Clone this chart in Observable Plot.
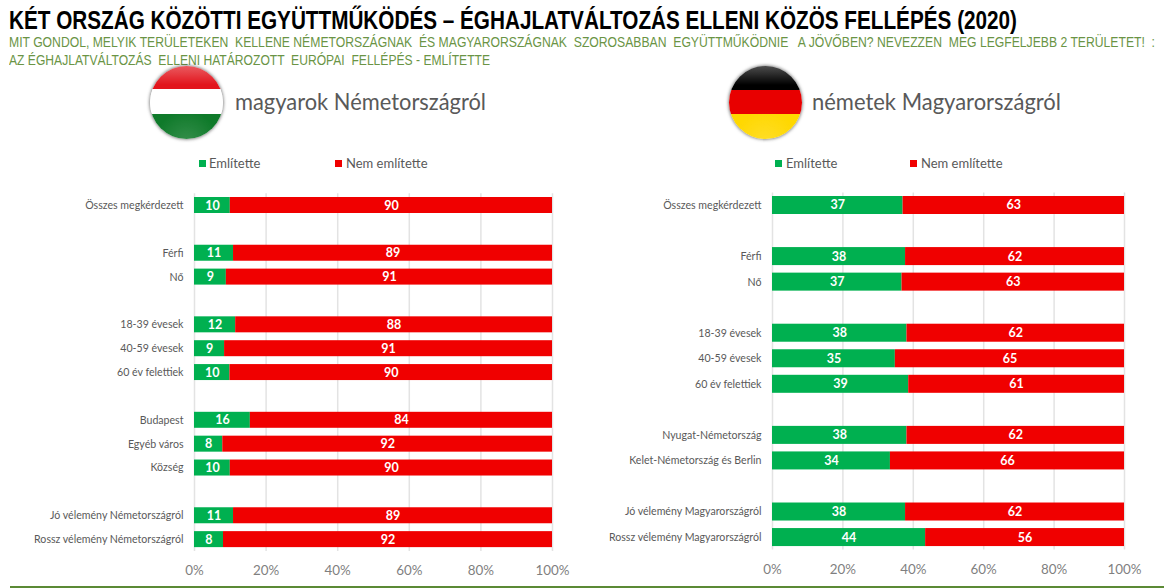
<!DOCTYPE html>
<html lang="hu">
<head>
<meta charset="utf-8">
<script src="https://cdn.jsdelivr.net/npm/d3@7"></script>
<script src="https://cdn.jsdelivr.net/npm/@observablehq/plot@0.6"></script>
<style>
html,body{margin:0;padding:0;background:#fff;}
#page{position:relative;width:1164px;height:588px;overflow:hidden;background:#fff;font-family:Lato,"Open Sans",sans-serif;}
.abs{position:absolute;white-space:pre;line-height:1;}
.fit{transform-origin:0 50%;}
.narrow{font-family:"Liberation Sans Narrow","Liberation Sans",sans-serif;}
#title{left:9px;top:7px;font-size:26px;font-weight:700;color:#000;}
.sub{left:9px;font-size:15px;color:#6a9445;}
.head{font-size:24px;color:#595959;top:89px;}
.leg{font-size:13px;color:#595959;top:157px;}
.sw{position:absolute;width:7px;height:7px;top:160px;}
.flag{position:absolute;width:73px;height:73px;border-radius:50%;top:66px;box-shadow:0 0 3px 1px rgba(60,60,60,.55);}
.gloss{position:absolute;inset:0;border-radius:50%;background:radial-gradient(circle at 50% 105%,rgba(255,255,255,.16),rgba(255,255,255,0) 38%),linear-gradient(to bottom,rgba(255,255,255,.3),rgba(255,255,255,0) 26%),radial-gradient(circle at 50% 50%,rgba(0,0,0,0) 78%,rgba(0,0,0,.4) 100%);}
.panel{position:absolute;top:180px;}
.panel svg{display:block;overflow:visible;}
#rule{position:absolute;left:10px;right:0;top:586px;height:2px;background:#5b8a35;}
</style>
</head>
<body>
<div id="page">
  <div id="title" class="abs fit narrow" data-w="1008">KÉT ORSZÁG KÖZÖTTI EGYÜTTMŰKÖDÉS – ÉGHAJLATVÁLTOZÁS ELLENI KÖZÖS FELLÉPÉS (2020)</div>
  <div class="abs fit narrow sub" style="top:34px" data-w="1146">MIT GONDOL, MELYIK TERÜLETEKEN  KELLENE NÉMETORSZÁGNAK  ÉS MAGYARORSZÁGNAK  SZOROSABBAN  EGYÜTTMŰKÖDNIE   A JÖVŐBEN? NEVEZZEN  MEG LEGFELJEBB 2 TERÜLETET!  :</div>
  <div class="abs fit narrow sub" style="top:52px" data-w="481">AZ ÉGHAJLATVÁLTOZÁS  ELLENI HATÁROZOTT  EURÓPAI  FELLÉPÉS - EMLÍTETTE</div>

  <div class="flag" style="left:150px;background:linear-gradient(to bottom,#e2141c 0 32%,#fff 32% 66%,#0f7a2a 66%)"><div class="gloss"></div></div>
  <div class="flag" style="left:729px;background:linear-gradient(to bottom,#000 0 33%,#e80000 33% 66%,#ffd800 66%)"><div class="gloss"></div></div>
  <div class="abs fit head" style="left:235px" data-w="251">magyarok Németországról</div>
  <div class="abs fit head" style="left:812px" data-w="249">németek Magyarországról</div>

  <div class="sw" style="left:199px;background:#00b050"></div>
  <div class="abs leg" style="left:209px">Említette</div>
  <div class="sw" style="left:335px;background:#f00000"></div>
  <div class="abs leg" style="left:346px">Nem említette</div>
  <div class="sw" style="left:775px;background:#00b050"></div>
  <div class="abs leg" style="left:786px">Említette</div>
  <div class="sw" style="left:910px;background:#f00000"></div>
  <div class="abs leg" style="left:921px">Nem említette</div>

  <div id="left" class="panel" style="left:0"></div>
  <div id="right" class="panel" style="left:582px"></div>
  <div id="rule"></div>
</div>
<script>
// Row labels (blank entries are the gaps between groups)
const groupsHU = ["Összes megkérdezett"," ","Férfi","Nő","  ","18-39 évesek","40-59 évesek","60 év felettiek","   ","Budapest","Egyéb város","Község","    ","Jó vélemény Németországról","Rossz vélemény Németországról"];
// Bar lengths as measured in the picture; the printed labels are rounded figures
const mentionedHU = [10,null,10.9,8.9,null,11.5,8.4,9.9,null,15.6,7.9,10,null,10.9,8.1];
const notMentionedHU = [90,null,89.1,91.1,null,88.5,91.6,90.1,null,84.4,92.1,90,null,89.1,91.9];
const mentionedLabelsHU = [10,null,11,9,null,12,9,10,null,16,8,10,null,11,8];
const notMentionedLabelsHU = [90,null,89,91,null,88,91,90,null,84,92,90,null,89,92];

const groupsDE = ["Összes megkérdezett"," ","Férfi","Nő","  ","18-39 évesek","40-59 évesek","60 év felettiek","   ","Nyugat-Németország","Kelet-Németország és Berlin","    ","Jó vélemény Magyarországról","Rossz vélemény Magyarországról"];
const mentionedDE = [37.1,null,37.8,36.8,null,38.2,34.9,38.7,null,38.2,33.5,null,37.8,43.5];
const notMentionedDE = [62.9,null,62.2,63.2,null,61.8,65.1,61.3,null,61.8,66.5,null,62.2,56.5];
const mentionedLabelsDE = [37,null,38,37,null,38,35,39,null,38,34,null,38,44];
const notMentionedLabelsDE = [63,null,62,63,null,62,65,61,null,62,66,null,62,56];

const seriesNames = ["Említette","Nem említette"];
const seriesColors = ["#00b050","#f00000"];
const xTicks = [0,20,40,60,80,100];

function table(groups, a, b, la, lb){
  const rows = [];
  groups.forEach((g,i)=>{
    if(a[i]==null) return;
    rows.push({group:g,series:seriesNames[0],value:a[i],label:String(la[i])});
    rows.push({group:g,series:seriesNames[1],value:b[i],label:String(lb[i])});
  });
  return rows;
}

function panel(groups,a,b,la,lb,opt){
  const rows = table(groups,a,b,la,lb);
  const shown = groups.filter(g=>g.trim()!=="");
  return Plot.plot({
    width:582,height:408,
    marginTop:opt.marginTop,marginBottom:opt.marginBottom,marginLeft:opt.marginLeft,marginRight:opt.marginRight,
    style:{fontFamily:"Lato,'Open Sans',sans-serif",background:"transparent",overflow:"visible"},
    x:{domain:[0,100],ticks:xTicks,label:null},
    y:{domain:groups,padding:opt.padding,round:false,label:null},
    color:{domain:seriesNames,range:seriesColors},
    marks:[
      Plot.gridX(xTicks,{stroke:"#e3e3e3",strokeOpacity:1,strokeWidth:1.5,insetTop:4,insetBottom:4}),
      Plot.barX(rows,Plot.stackX({x:"value",y:"group",fill:"series",z:"series",order:seriesNames})),
      Plot.text(rows,Plot.stackX({x:"value",y:"group",z:"series",order:seriesNames,text:"label",fill:"#fff",fontWeight:700,fontSize:12.5})),
      Plot.axisY({ticks:shown,tickSize:0,tickPadding:11,fontSize:10.6,color:"#595959",label:null,marginLeft:opt.marginLeft}),
      Plot.axisX({ticks:xTicks,tickSize:0,tickPadding:10,fontSize:13.4,color:"#7f7f7f",tickFormat:d=>d+"%",label:null})
    ]
  });
}

document.getElementById("left").append(panel(groupsHU,mentionedHU,notMentionedHU,mentionedLabelsHU,notMentionedLabelsHU,{marginTop:9.13,marginBottom:33,marginLeft:194,marginRight:30,padding:0.33}));
document.getElementById("right").append(panel(groupsDE,mentionedDE,notMentionedDE,mentionedLabelsDE,notMentionedLabelsDE,{marginTop:8.46,marginBottom:34.4,marginLeft:190,marginRight:40,padding:0.295}));

document.querySelectorAll(".fit").forEach(el=>{
  const w = el.getBoundingClientRect().width;
  el.style.transform = "scaleX("+(+el.dataset.w/w)+")";
});
</script>
</body>
</html>
